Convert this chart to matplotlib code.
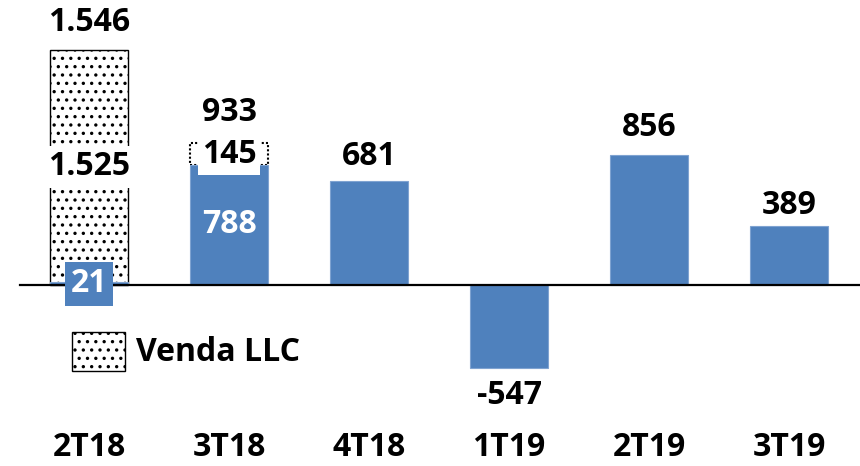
import matplotlib.pyplot as plt
from matplotlib.patches import Rectangle

plt.rcParams['font.family'] = ['Open Sans', 'DejaVu Sans']
plt.rcParams['hatch.linewidth'] = 1.2

quarters = ["2T18", "3T18", "4T18", "1T19", "2T19", "3T19"]
results = [21, 788, 681, -547, 856, 389]
venda_llc = [1525, 145, 0, 0, 0, 0]
labels_total = ["1.546", "933", "681", "-547", "856", "389"]
labels_llc = ["1.525", "145"]
blue = "#4F81BD"

fig = plt.figure(figsize=(8.6, 4.66), dpi=100)
ax = fig.add_axes([0, 0, 1, 1])
ax.set_xlim(-0.636, 5.507)
ax.set_ylim(-1191, 1875)
ax.axis("off")

x = list(range(len(quarters)))
w = 0.557
dots = ".."

# venda LLC bars (2T18 dotted full, 3T18 dotted outline on top)
ax.bar(0, results[0] + venda_llc[0], w, color="white", edgecolor="black",
       hatch=dots, linewidth=1.0, zorder=1)
ax.bar(1, venda_llc[1], w, bottom=results[1], color="white", edgecolor="black",
       linewidth=1.5, linestyle=(0, (1, 1)), zorder=1)
ax.bar(x, results, w, color=blue, edgecolor="#7FA3D1", linewidth=0.8, zorder=2)

ax.plot([-0.493, 5.6], [0, 0], color="black", lw=1.6, zorder=3)

fs = 23
kw = dict(ha="center", va="center", fontsize=fs, fontweight="bold")
# total labels
ax.text(0, 1730, labels_total[0], **kw)
ax.text(1, 1138, labels_total[1], **kw)
ax.text(2, 845, labels_total[2], **kw)
ax.text(3, -727, labels_total[3], **kw)
ax.text(4, 1033, labels_total[4], **kw)
ax.text(5, 520, labels_total[5], **kw)

# Venda LLC labels with white background
ax.text(0, 777, labels_llc[0], zorder=4,
        bbox=dict(facecolor="white", edgecolor="none", pad=3), **kw)
ax.text(1, 860, labels_llc[1], zorder=4,
        bbox=dict(facecolor="white", edgecolor="none", pad=3), **kw)

# inside labels
ax.text(1, 401, str(results[1]), color="white", zorder=4, **kw)
ax.text(0, 7, str(results[0]), color="white", zorder=4,
        bbox=dict(facecolor=blue, edgecolor="none", pad=4), **kw)

# category labels
for i, q in enumerate(quarters):
    ax.text(i, -1072, q, **kw)

# legend
ax.add_patch(Rectangle((-0.121, -566), 0.379, 257, facecolor="white",
                       edgecolor="black", hatch=dots, linewidth=1.0, zorder=2))
ax.text(0.336, -441, "Venda LLC", ha="left", va="center", fontsize=fs,
        fontweight="bold")

fig.savefig("out.png", dpi=100)
